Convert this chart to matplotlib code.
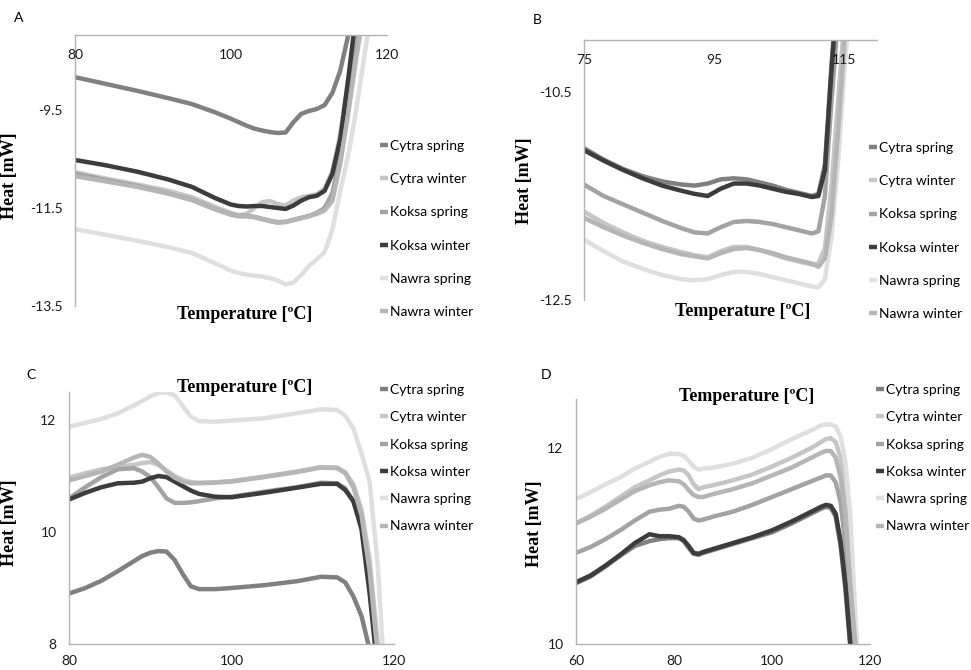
import matplotlib
matplotlib.use("Agg")
import matplotlib.pyplot as plt

# series names and grey shades (Excel style)
series = ["Cytra spring", "Cytra winter", "Koksa spring", "Koksa winter", "Nawra spring", "Nawra winter"]
colors = ["#808080", "#c6c6c6", "#a3a3a3", "#3c3c3c", "#dfdfdf", "#b5b5b5"]

# ---- panel A ----
a_temp = [80, 84, 88, 92, 95, 98, 100, 101, 102, 103, 104, 105, 106, 107, 108, 109, 110, 111, 112, 113, 114, 115, 116, 117, 118]
a_cytra_spring = [-8.83, -8.97, -9.11, -9.26, -9.38, -9.55, -9.68, -9.75, -9.82, -9.88, -9.92, -9.95, -9.97, -9.96, -9.75, -9.58, -9.52, -9.48, -9.40, -9.15, -8.70, -8.00, -7.30, -6.8, -6.3]
a_cytra_winter = [-10.77, -10.90, -11.02, -11.15, -11.28, -11.48, -11.60, -11.65, -11.62, -11.50, -11.38, -11.36, -11.42, -11.45, -11.35, -11.28, -11.25, -11.22, -11.10, -10.75, -10.00, -8.95, -7.90, -7.0, -6.5]
a_koksa_spring = [-10.80, -10.93, -11.05, -11.20, -11.33, -11.52, -11.63, -11.66, -11.66, -11.68, -11.72, -11.76, -11.79, -11.78, -11.74, -11.70, -11.66, -11.60, -11.50, -11.20, -10.40, -9.40, -8.30, -7.4, -6.8]
a_koksa_winter = [-10.52, -10.63, -10.76, -10.92, -11.07, -11.30, -11.43, -11.46, -11.47, -11.46, -11.46, -11.48, -11.50, -11.52, -11.45, -11.35, -11.28, -11.25, -11.15, -10.80, -10.10, -8.90, -7.60, -6.8, -6.0]
a_nawra_spring = [-11.93, -12.05, -12.17, -12.30, -12.42, -12.63, -12.78, -12.83, -12.86, -12.88, -12.90, -12.93, -12.98, -13.06, -13.02, -12.87, -12.68, -12.55, -12.40, -11.95, -11.15, -10.45, -9.55, -8.5, -7.5]
a_nawra_winter = [-10.85, -10.96, -11.07, -11.21, -11.34, -11.53, -11.64, -11.67, -11.67, -11.69, -11.73, -11.77, -11.80, -11.79, -11.75, -11.71, -11.67, -11.62, -11.55, -11.35, -10.60, -9.60, -8.50, -7.5, -6.9]

# ---- panel B ----
b_temp = [75, 78, 81, 84, 87, 90, 92, 94, 96, 98, 100, 102, 104, 106, 108, 110, 111, 112, 113, 114, 115, 116, 117]
b_cytra_spring = [-11.04, -11.15, -11.24, -11.31, -11.36, -11.39, -11.40, -11.38, -11.34, -11.33, -11.34, -11.37, -11.40, -11.44, -11.47, -11.50, -11.48, -11.20, -10.25, -9.40, -8.8, -8.3, -8.0]
b_cytra_winter = [-11.65, -11.76, -11.85, -11.93, -11.99, -12.04, -12.07, -12.09, -12.03, -11.99, -11.99, -12.02, -12.06, -12.10, -12.13, -12.16, -12.15, -12.00, -11.40, -10.60, -9.80, -9.2, -8.8]
b_koksa_spring = [-11.39, -11.50, -11.58, -11.66, -11.74, -11.81, -11.85, -11.86, -11.80, -11.75, -11.74, -11.75, -11.77, -11.80, -11.83, -11.86, -11.84, -11.50, -10.60, -9.80, -9.30, -8.9, -8.5]
b_koksa_winter = [-11.06, -11.16, -11.25, -11.33, -11.40, -11.45, -11.48, -11.50, -11.43, -11.38, -11.38, -11.40, -11.43, -11.46, -11.48, -11.51, -11.50, -11.25, -10.30, -9.50, -8.9, -8.4, -8.0]
b_nawra_spring = [-11.92, -12.03, -12.13, -12.20, -12.26, -12.30, -12.31, -12.30, -12.26, -12.23, -12.23, -12.25, -12.28, -12.31, -12.34, -12.37, -12.38, -12.30, -11.90, -11.20, -10.30, -9.50, -9.0]
b_nawra_winter = [-11.71, -11.80, -11.88, -11.95, -12.01, -12.06, -12.08, -12.10, -12.05, -12.01, -12.00, -12.02, -12.05, -12.09, -12.12, -12.15, -12.18, -12.10, -11.70, -10.90, -10.00, -9.4, -9.0]

# ---- panel C ----
c_temp = [80, 82, 84, 86, 88, 89, 90, 91, 92, 93, 94, 95, 96, 98, 100, 104, 108, 111, 113, 114, 115, 116, 117, 118, 119]
c_cytra_spring = [8.90, 9.00, 9.13, 9.30, 9.48, 9.57, 9.63, 9.66, 9.65, 9.50, 9.25, 9.03, 8.98, 8.98, 9.00, 9.05, 9.12, 9.20, 9.19, 9.10, 8.85, 8.50, 7.90, 7.0, 6.0]
c_cytra_winter = [10.97, 11.05, 11.12, 11.16, 11.20, 11.23, 11.25, 11.20, 11.10, 11.00, 10.93, 10.89, 10.88, 10.89, 10.91, 10.99, 11.08, 11.16, 11.15, 11.07, 10.85, 10.40, 9.50, 8.0, 6.5]
c_koksa_spring = [10.60, 10.80, 10.98, 11.12, 11.14, 11.08, 10.98, 10.80, 10.60, 10.52, 10.52, 10.53, 10.55, 10.60, 10.63, 10.72, 10.80, 10.88, 10.87, 10.78, 10.55, 10.10, 9.00, 7.6, 6.0]
c_koksa_winter = [10.58, 10.70, 10.80, 10.87, 10.88, 10.90, 10.96, 11.00, 10.98, 10.90, 10.82, 10.74, 10.68, 10.63, 10.62, 10.70, 10.79, 10.86, 10.86, 10.75, 10.55, 10.05, 8.90, 7.5, 6.0]
c_nawra_spring = [11.88, 11.95, 12.02, 12.12, 12.26, 12.34, 12.42, 12.48, 12.49, 12.44, 12.25, 12.06, 11.98, 11.97, 11.99, 12.03, 12.12, 12.19, 12.18, 12.08, 11.85, 11.40, 10.90, 9.4, 7.0]
c_nawra_winter = [10.92, 11.00, 11.08, 11.20, 11.33, 11.38, 11.34, 11.22, 11.08, 10.97, 10.90, 10.87, 10.87, 10.88, 10.90, 10.98, 11.07, 11.15, 11.14, 11.05, 10.80, 10.30, 9.30, 7.8, 6.5]

# ---- panel D ----
d_temp = [60, 63, 66, 69, 72, 75, 77, 79, 81, 82, 83, 84, 85, 86, 88, 92, 96, 100, 104, 108, 110, 111, 112, 113, 114, 115, 116, 117, 118]
d_cytra_spring = [10.62, 10.69, 10.79, 10.90, 11.00, 11.05, 11.07, 11.08, 11.08, 11.05, 10.98, 10.92, 10.91, 10.93, 10.96, 11.02, 11.08, 11.14, 11.23, 11.33, 11.38, 11.40, 11.39, 11.30, 11.00, 10.55, 9.95, 9.4, 9.0]
d_cytra_winter = [11.23, 11.31, 11.40, 11.50, 11.60, 11.67, 11.72, 11.76, 11.78, 11.77, 11.72, 11.63, 11.58, 11.60, 11.62, 11.67, 11.73, 11.81, 11.90, 12.00, 12.06, 12.09, 12.10, 12.06, 11.90, 11.55, 10.90, 10.05, 9.5]
d_koksa_spring = [10.93, 10.99, 11.07, 11.16, 11.26, 11.35, 11.37, 11.38, 11.41, 11.40, 11.35, 11.28, 11.26, 11.27, 11.30, 11.35, 11.42, 11.50, 11.58, 11.66, 11.70, 11.72, 11.72, 11.65, 11.45, 11.00, 10.40, 9.60, 9.2]
d_koksa_winter = [10.63, 10.70, 10.80, 10.91, 11.03, 11.12, 11.10, 11.10, 11.09, 11.06, 11.00, 10.93, 10.92, 10.94, 10.97, 11.03, 11.09, 11.16, 11.25, 11.35, 11.40, 11.42, 11.41, 11.33, 11.05, 10.60, 10.00, 9.50, 9.0]
d_nawra_spring = [11.48, 11.55, 11.63, 11.70, 11.79, 11.86, 11.91, 11.94, 11.94, 11.92, 11.87, 11.81, 11.78, 11.79, 11.80, 11.84, 11.90, 11.99, 12.09, 12.18, 12.23, 12.24, 12.24, 12.22, 12.12, 11.85, 11.30, 10.30, 9.5]
d_nawra_winter = [11.23, 11.30, 11.38, 11.47, 11.56, 11.62, 11.65, 11.67, 11.66, 11.63, 11.57, 11.52, 11.50, 11.50, 11.53, 11.58, 11.64, 11.72, 11.80, 11.90, 11.95, 11.97, 11.97, 11.90, 11.70, 11.30, 10.60, 10.00, 9.5]

panels = [
    ("A", a_temp, [a_cytra_spring, a_cytra_winter, a_koksa_spring, a_koksa_winter, a_nawra_spring, a_nawra_winter]),
    ("B", b_temp, [b_cytra_spring, b_cytra_winter, b_koksa_spring, b_koksa_winter, b_nawra_spring, b_nawra_winter]),
    ("C", c_temp, [c_cytra_spring, c_cytra_winter, c_koksa_spring, c_koksa_winter, c_nawra_spring, c_nawra_winter]),
    ("D", d_temp, [d_cytra_spring, d_cytra_winter, d_koksa_spring, d_koksa_winter, d_nawra_spring, d_nawra_winter]),
]

# axes limits and ticks per panel
xlims = [(80, 120), (75, 120), (80, 120), (60, 120)]
xticks = [[80, 100, 120], [75, 95, 115], [80, 100, 120], [60, 80, 100, 120]]
ylims = [(-13.5, -7.97), (-12.5, -10.0), (8, 12.5), (10, 12.5)]
yticks = [[-13.5, -11.5, -9.5], [-12.5, -10.5], [8, 10, 12], [10, 12]]

W, H = 971, 670
boxes = [(75, 387, 35, 306), (584, 877, 40, 300), (69, 394, 392, 644), (576, 870, 399, 644)]
ylab_pos = [(-0.183, 0.48), (-0.174, 0.46), (-0.157, 0.48), (-0.112, 0.49)]
xlab_pos = [(0.545, 0.0), (0.543, -0.01), (0.54, 1.0), (0.58, 0.99)]
leg_pos = [(380, 140), (869, 142), (380, 384), (876, 384)]
leg_space = [1.53, 1.53, 1.1, 1.1]
letter_pos = [(14, 18), (533, 20), (26, 375), (541, 375)]

sans = ["Lato", "DejaVu Sans"]
serif = ["Liberation Serif", "DejaVu Serif"]
spine_col = "#b3b3b3"

fig = plt.figure(figsize=(W / 100, H / 100), dpi=100)

for i, (letter, temp, ys) in enumerate(panels):
    l, r, t, b = boxes[i]
    ax = fig.add_axes([l / W, 1 - b / H, (r - l) / W, (b - t) / H])
    for name, col, y in zip(series, colors, ys):
        ax.plot(temp, y, color=col, lw=3.2, label=name, solid_capstyle="butt")
    ax.set_axisbelow(False)
    ax.set_xlim(*xlims[i])
    ax.set_ylim(*ylims[i])
    ax.set_xticks(xticks[i])
    ax.set_yticks(yticks[i])
    ax.set_yticklabels([f"{v:g}" for v in yticks[i]])
    for s in ax.spines.values():
        s.set_color(spine_col)
        s.set_linewidth(1.0)
    ax.spines["right"].set_visible(False)
    ax.tick_params(axis="y", length=0, pad=9, labelsize=10)
    if i < 2:
        # x axis crosses at the top, labels just under it
        ax.spines["bottom"].set_visible(False)
        ax.xaxis.set_ticks_position("top")
        ax.tick_params(axis="x", length=0, pad=-19, labelsize=10, labeltop=True, labelbottom=False)
        ax.xaxis.set_label_position("bottom")
    else:
        ax.spines["top"].set_visible(False)
        ax.tick_params(axis="x", length=0, pad=8, labelsize=10)
        ax.xaxis.set_label_position("top")
    for lab in ax.get_xticklabels() + ax.get_yticklabels():
        lab.set_family(sans)
        lab.set_color("#1a1a1a")
    ax.set_xlabel("Temperature [ºC]", family=serif, weight="bold", fontsize=13)
    ax.set_ylabel("Heat [mW]", family=serif, weight="bold", fontsize=13)
    ax.xaxis.set_label_coords(*xlab_pos[i])
    ax.yaxis.set_label_coords(*ylab_pos[i])
    lx, ly = leg_pos[i]
    ax.legend(loc="upper left", bbox_to_anchor=(lx / W, 1 - ly / H), bbox_transform=fig.transFigure,
              frameon=False, borderpad=0, borderaxespad=0, handlelength=0.55, handletextpad=0.2,
              labelspacing=leg_space[i], prop={"family": sans, "size": 10})
    fig.text(letter_pos[i][0] / W, 1 - letter_pos[i][1] / H, letter, family=sans, fontsize=10,
             ha="left", va="center")

fig.savefig("out.png", dpi=100)
